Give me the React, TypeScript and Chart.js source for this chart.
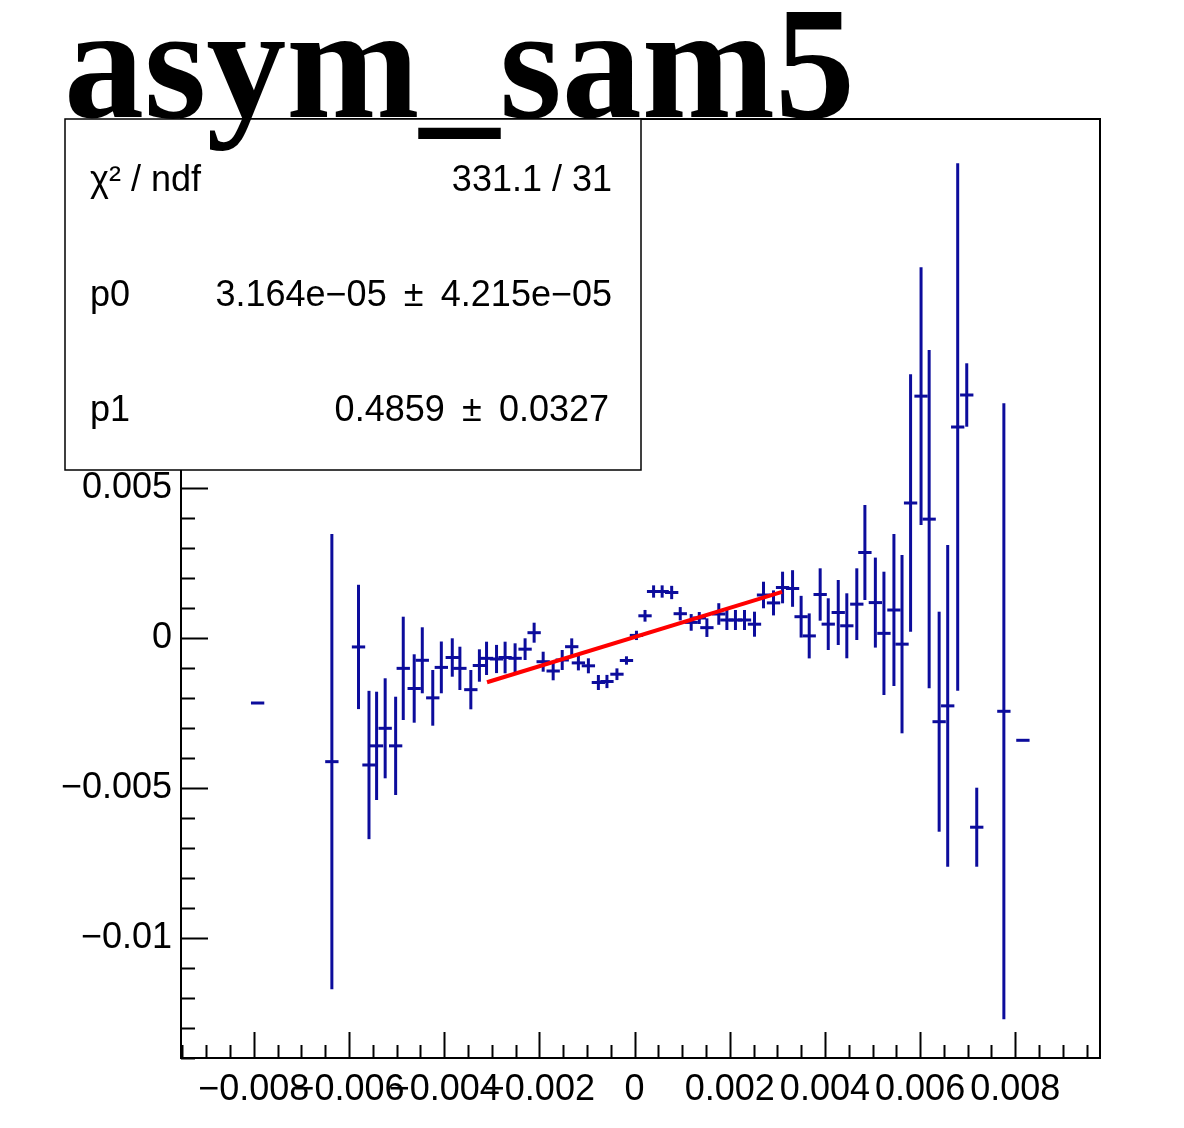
import React, { useEffect, useRef } from "react";
import { Chart, registerables } from "chart.js";

Chart.register(...registerables);

// ---- data ----
const xVals = [
  -0.00792, -0.00636, -0.0058, -0.00558, -0.00542, -0.00524, -0.00502, -0.00486,
  -0.00463, -0.00446, -0.00424, -0.00406, -0.00383, -0.00367, -0.00344, -0.00326,
  -0.00311, -0.0029, -0.00272, -0.00251, -0.0023, -0.00211, -0.00192, -0.00171,
  -0.00152, -0.00132, -0.00118, -0.00097, -0.00076, -0.00058, -0.00037, -0.00017,
  0.00004, 0.00022, 0.0004, 0.00058, 0.00078, 0.00096, 0.00119, 0.00136,
  0.00152, 0.00177, 0.00194, 0.00212, 0.00231, 0.00252, 0.00271, 0.00292,
  0.00311, 0.00332, 0.0035, 0.00367, 0.0039, 0.00407, 0.00428, 0.00446,
  0.00467, 0.00484, 0.00506, 0.00524, 0.00545, 0.00562, 0.0058, 0.00602,
  0.00619, 0.0064, 0.00658, 0.00679, 0.00698, 0.00719, 0.00776, 0.00816,
];

const yVals = [
  -0.002167, -0.004122, -0.000298, -0.004233, -0.003595, -0.00301, -0.003595, -0.001012,
  -0.001683, -0.000743, -0.001995, -0.00098, -0.00065, -0.001012, -0.001722, -0.000917,
  -0.000678, -0.0007, -0.00065, -0.000677, -0.000372, 0.000177, -0.00079, -0.0011,
  -0.000733, -0.00029, -0.00083, -0.000927, -0.001483, -0.00145, -0.001207, -0.00075,
  0.000087, 0.00074, 0.00155, 0.00155, 0.001517, 0.00081, 0.00052, 0.000667,
  0.000345, 0.0008, 0.0006, 0.0006, 0.0006, 0.00046, 0.001433, 0.00117,
  0.001683, 0.00165, 0.00071, 0.00007, 0.00145, 0.000462, 0.00085, 0.000407,
  0.001128, 0.00285, 0.00118, 0.000155, 0.000933, -0.000205, 0.0045, 0.008062,
  0.003962, -0.00279, -0.002262, 0.007033, 0.0081, -0.006307, -0.002443, -0.00341,
];

const yErrs = [
  0, 0.007588, 0.002072, 0.002472, 0.001805, 0.001667, 0.001638, 0.001722,
  0.00114, 0.0011, 0.000928, 0.000863, 0.00064, 0.000722, 0.000655, 0.00054,
  0.000555, 0.00047, 0.000527, 0.0005, 0.000362, 0.000333, 0.000333, 0.00031,
  0.000333, 0.000278, 0.00025, 0.00025, 0.00025, 0.00022, 0.000195, 0.00014,
  0.000155, 0.000195, 0.000205, 0.000205, 0.000222, 0.000222, 0.000278, 0.0002,
  0.00031, 0.00036, 0.000333, 0.000333, 0.000333, 0.000417, 0.000443, 0.000417,
  0.000527, 0.00061, 0.000695, 0.00075, 0.000873, 0.000862, 0.001083, 0.001083,
  0.001195, 0.001583, 0.0015, 0.002055, 0.002533, 0.002972, 0.00429, 0.004295,
  0.005638, 0.003667, 0.005362, 0.00879, 0.001057, 0.001317, 0.010267, 0,
];

const xErr = 0.00014;

// fit line end points (p0 + p1*x over the fit range)
const fitX = [-0.0031, 0.0031];
const fitY = [-0.001475, 0.001538];

// axis ticks / labels
const xMajorTicks = [-0.008, -0.006, -0.004, -0.002, 0, 0.002, 0.004, 0.006, 0.008];
const yMajorTicks = [-0.01, -0.005, 0, 0.005, 0.01, 0.015];
const xMinorStep = 0.0005;
const yMinorStep = 0.001;

const X_MIN = -0.00953;
const X_MAX = 0.00978;
const Y_MIN = -0.014;
const Y_MAX = 0.0173;

const titleText = "asym_sam5";
const statsNames = ["χ² / ndf", "p0", "p1"];
const statsValues = ["331.1 / 31", "3.164e−05\u2009 ± \u20094.215e−05", "0.4859\u2009 ± \u20090.0327"];

const BLUE = "#0c0c9c";
const SANS = '"Liberation Sans", Arial, Helvetica, sans-serif';
const SERIF = '"Liberation Serif", "Times New Roman", serif';

function fmt(v: number): string {
  if (Math.abs(v) < 1e-12) return "0";
  const s = parseFloat(Math.abs(v).toFixed(3)).toString();
  return (v < 0 ? "−" : "") + s;
}

export default function App() {
  const ref = useRef<HTMLCanvasElement>(null);

  useEffect(() => {
    const canvas = ref.current;
    if (!canvas) return;

    const rootPlugin = {
      id: "rootStyle",
      beforeDatasetsDraw(chart: any) {
        const { ctx, chartArea: a } = chart;
        const xs = chart.scales.x;
        const ys = chart.scales.y;
        ctx.save();
        ctx.beginPath();
        ctx.rect(a.left, a.top, a.right - a.left, a.bottom - a.top);
        ctx.clip();
        ctx.strokeStyle = BLUE;
        ctx.lineWidth = 3;
        ctx.lineCap = "butt";
        for (let i = 0; i < xVals.length; i++) {
          const py = ys.getPixelForValue(yVals[i]);
          const px = xs.getPixelForValue(xVals[i]);
          const x0 = xs.getPixelForValue(xVals[i] - xErr);
          const x1 = xs.getPixelForValue(xVals[i] + xErr);
          ctx.beginPath();
          ctx.moveTo(x0, py);
          ctx.lineTo(x1, py);
          ctx.stroke();
          if (yErrs[i] > 0) {
            const yt = ys.getPixelForValue(yVals[i] + yErrs[i]);
            const yb = ys.getPixelForValue(yVals[i] - yErrs[i]);
            ctx.beginPath();
            ctx.moveTo(px, yt);
            ctx.lineTo(px, yb);
            ctx.stroke();
          }
        }
        ctx.restore();
      },
      afterDatasetsDraw(chart: any) {
        const { ctx, chartArea: a } = chart;
        const xs = chart.scales.x;
        const ys = chart.scales.y;
        ctx.save();
        ctx.strokeStyle = "#000";
        ctx.lineWidth = 2;
        ctx.strokeRect(a.left, a.top, a.right - a.left, a.bottom - a.top);
        // x ticks (inside, upward)
        const kx0 = Math.ceil(X_MIN / xMinorStep - 1e-9);
        const kx1 = Math.floor(X_MAX / xMinorStep + 1e-9);
        for (let k = kx0; k <= kx1; k++) {
          const v = k * xMinorStep;
          const major = xMajorTicks.some((t) => Math.abs(t - v) < 1e-9);
          const px = Math.round(xs.getPixelForValue(v)) + 0.5;
          ctx.beginPath();
          ctx.moveTo(px, a.bottom);
          ctx.lineTo(px, a.bottom - (major ? 26 : 13));
          ctx.stroke();
        }
        // y ticks (inside, rightward)
        const ky0 = Math.ceil(Y_MIN / yMinorStep - 1e-9);
        const ky1 = Math.floor(Y_MAX / yMinorStep + 1e-9);
        for (let k = ky0; k <= ky1; k++) {
          const v = k * yMinorStep;
          const major = yMajorTicks.some((t) => Math.abs(t - v) < 1e-9);
          const py = Math.round(ys.getPixelForValue(v)) + 0.5;
          ctx.beginPath();
          ctx.moveTo(a.left, py);
          ctx.lineTo(a.left + (major ? 27 : 14), py);
          ctx.stroke();
        }
        ctx.restore();
      },
      afterDraw(chart: any) {
        const { ctx } = chart;
        ctx.save();
        // stats box
        const bx = 65, by = 119, bw = 576, bh = 351;
        ctx.fillStyle = "#fff";
        ctx.fillRect(bx, by, bw, bh);
        ctx.strokeStyle = "#000";
        ctx.lineWidth = 1.5;
        ctx.strokeRect(bx, by, bw, bh);
        ctx.fillStyle = "#000";
        ctx.font = `36px ${SANS}`;
        ctx.textBaseline = "middle";
        const rowY = [181, 296, 411];
        const rightX = [612, 612, 609];
        statsNames.forEach((name, i) => {
          ctx.textAlign = "left";
          ctx.fillText(name, 90, rowY[i]);
          ctx.textAlign = "right";
          ctx.fillText(statsValues[i], rightX[i], rowY[i]);
        });
        // title
        ctx.font = `bold 160px ${SERIF}`;
        ctx.textAlign = "left";
        ctx.textBaseline = "alphabetic";
        ctx.fillText(titleText, 64, 117);
        ctx.restore();
      },
    };

    const chart = new Chart(canvas, {
      type: "scatter",
      data: {
        datasets: [
          {
            label: "data",
            data: xVals.map((x, i) => ({ x, y: yVals[i] })),
            pointRadius: 0,
            showLine: false,
          },
          {
            label: "fit",
            type: "line",
            data: fitX.map((x, i) => ({ x, y: fitY[i] })),
            borderColor: "#ff0000",
            borderWidth: 4,
            pointRadius: 0,
            fill: false,
          } as any,
        ],
      },
      options: {
        responsive: false,
        animation: false,
        devicePixelRatio: 1,
        layout: { padding: { left: 0, right: 84, top: 119, bottom: 0 } },
        plugins: {
          legend: { display: false },
          title: { display: false },
          tooltip: { enabled: false },
        },
        scales: {
          x: {
            type: "linear",
            min: X_MIN,
            max: X_MAX,
            bounds: "data",
            grid: { display: false, drawTicks: false },
            border: { display: false },
            afterBuildTicks: (s: any) => {
              s.ticks = xMajorTicks.map((v) => ({ value: v }));
            },
            afterFit: (s: any) => {
              s.height = 70;
            },
            ticks: {
              autoSkip: false,
              maxRotation: 0,
              minRotation: 0,
              padding: 10,
              color: "#000",
              font: { family: SANS, size: 36 },
              callback: (v: any) => fmt(Number(v)),
            },
          },
          y: {
            type: "linear",
            min: Y_MIN,
            max: Y_MAX,
            bounds: "data",
            grid: { display: false, drawTicks: false },
            border: { display: false },
            afterBuildTicks: (s: any) => {
              s.ticks = yMajorTicks.map((v) => ({ value: v }));
            },
            afterFit: (s: any) => {
              s.width = 181;
            },
            ticks: {
              autoSkip: false,
              padding: 9,
              color: "#000",
              font: { family: SANS, size: 36 },
              callback: (v: any) => fmt(Number(v)),
            },
          },
        },
      } as any,
      plugins: [rootPlugin],
    });

    return () => chart.destroy();
  }, []);

  return (
    <div style={{ position: "absolute", left: 0, top: 0, width: 1184, height: 1128, background: "#fff" }}>
      <canvas ref={ref} width={1184} height={1128} style={{ display: "block" }} />
    </div>
  );
}
